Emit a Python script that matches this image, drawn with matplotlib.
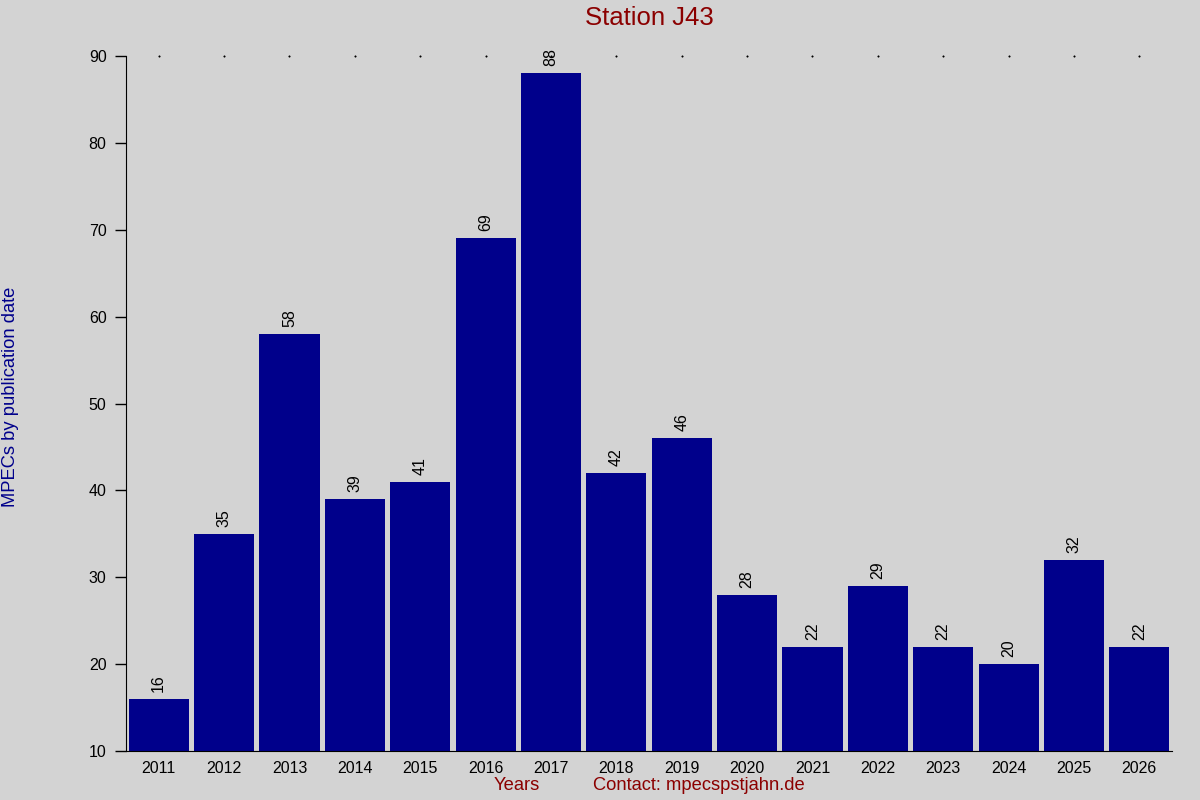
import numpy as np
import matplotlib
matplotlib.use('Agg')
import matplotlib.pyplot as plt

plt.rcParams['font.family'] = ['Liberation Sans', 'DejaVu Sans']

# data
years = [2011, 2012, 2013, 2014, 2015, 2016, 2017, 2018,
         2019, 2020, 2021, 2022, 2023, 2024, 2025, 2026]
counts = [16, 35, 58, 39, 41, 69, 88, 42,
          46, 28, 22, 29, 22, 20, 32, 22]

bg = '#d3d3d3'
bar_color = '#00008b'
red = '#8b0000'

fig = plt.figure(figsize=(12, 8), dpi=100, facecolor=bg)
ax = fig.add_axes([0.105, 0.06125, 0.8717, 0.86875])
ax.set_facecolor(bg)

ax.bar(years, counts, width=0.92, color=bar_color, bottom=0)
for x, v in zip(years, counts):
    ax.annotate(str(v), (x, v), xytext=(0, 5), textcoords='offset points',
                ha='center', va='bottom', rotation=90, fontsize=11.5)

# tiny dots along the top edge
ax.plot(years, [90] * len(years), linestyle='none', marker='s',
        markersize=0.5, color='black', clip_on=False)

ax.set_xlim(2010.5, 2026.5)
ax.set_ylim(10, 90)
ax.set_yticks(np.arange(10, 91, 10))
ax.set_xticks(years)
ax.tick_params(axis='y', length=8, width=1, pad=6, labelsize=11.5)
ax.tick_params(axis='x', length=0, pad=7, labelsize=11.5)
for s in ['top', 'right']:
    ax.spines[s].set_visible(False)

fig.text(0.541, 0.977, 'Station J43', ha='center', va='center',
         fontsize=18.5, color=red)
fig.text(0.009, 0.504, 'MPECs by publication date', ha='center', va='center',
         rotation=90, fontsize=13.2, color=bar_color)
fig.text(0.431, 0.018, 'Years', ha='center', va='center',
         fontsize=13.2, color=red)
fig.text(0.582, 0.018, 'Contact: mpecspstjahn.de', ha='center', va='center',
         fontsize=13.2, color=red)

fig.savefig('out.png', dpi=100, facecolor=bg)
